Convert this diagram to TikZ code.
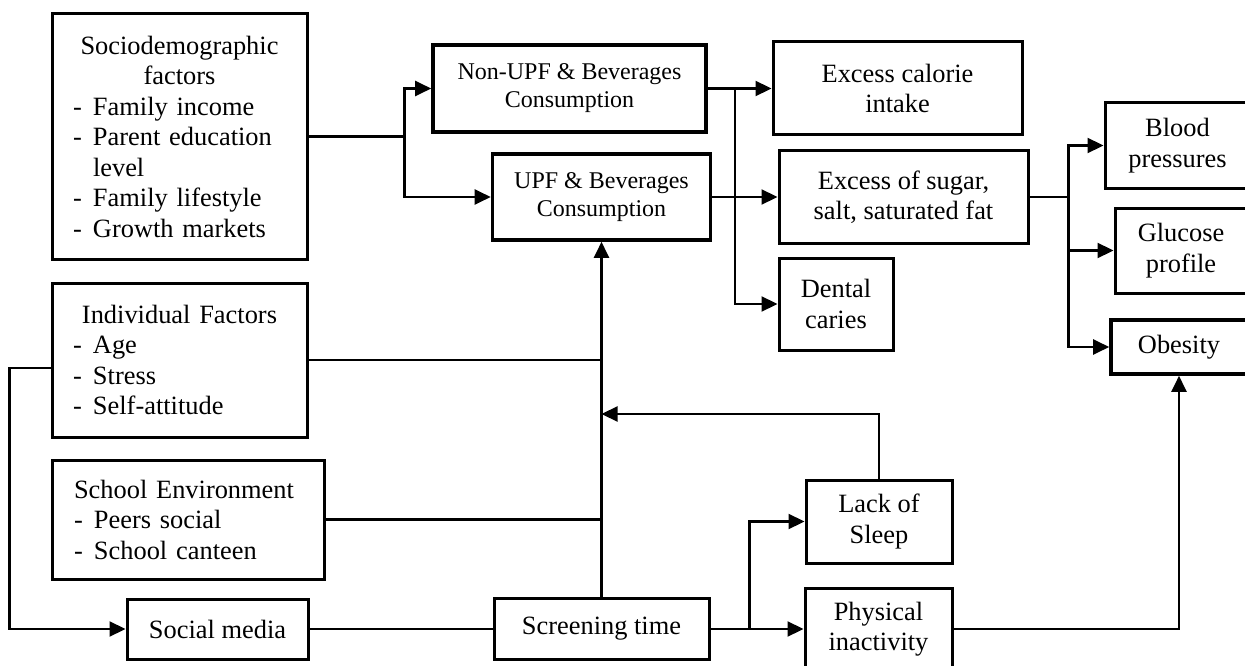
\documentclass[tikz,border=0pt]{standalone}
\usepackage{fontspec}
\setmainfont{Liberation Serif}
\usetikzlibrary{arrows.meta}
\newcommand\bodyfont{\fontsize{26.4}{30.5}\selectfont}
\newcommand\upffont{\fontsize{24}{28}\selectfont}
\newcommand\itm[1]{\makebox[20pt][l]{-}#1}
\begin{document}
\begin{tikzpicture}[x=1pt,y=-1pt,
  box/.style={draw, line width=3pt, inner sep=0pt, align=center, font=\bodyfont},
  heavy/.style={box, line width=3.6pt},
  listbox/.style={box, align=left, inner xsep=21pt, inner ysep=0pt},
  conn/.style={line width=2.2pt},
  arr/.style={conn, -{Triangle[length=16pt,width=15pt]}}]
\useasboundingbox (0,0) rectangle (1245,666);

% factor boxes on the left
\node[listbox, minimum width=255, minimum height=245, text width=213pt] (socio) at (179.5,136.5)
  {\makebox[213pt][c]{Sociodemographic}\\ \makebox[213pt][c]{factors}\\
   \itm{Family income}\\ \itm{Parent education}\\ \hspace*{20pt}level\\
   \itm{Family lifestyle}\\ \itm{Growth markets}};
\node[listbox, minimum width=255, minimum height=154, text width=213pt] (indiv) at (179.5,360)
  {\makebox[213pt][c]{Individual Factors}\\ \itm{Age}\\ \itm{Stress}\\ \itm{Self-attitude}};
\node[listbox, inner xsep=22pt, minimum width=272, minimum height=119, text width=228pt] (school) at (188,519.5)
  {School Environment\\ \itm{Peers social}\\ \itm{School canteen}};
\node[box, minimum width=181, minimum height=60] (social) at (217.5,629) {Social media};

% consumption
\node[heavy, font=\upffont, minimum width=273, minimum height=87] (nonupf) at (569.5,88.5)
  {Non-UPF \& Beverages\\ Consumption};
\node[heavy, font=\upffont, minimum width=218, minimum height=86] (upf) at (601.5,197)
  {UPF \& Beverages\\ Consumption};
\node[box, minimum width=215, minimum height=61] (screen) at (601.5,629) {Screening time};

% intermediate effects
\node[box, minimum width=249, minimum height=93] (calorie) at (897.5,88.5) {Excess calorie\\ intake};
\node[box, minimum width=249, minimum height=92] (sugar) at (903.5,197) {Excess of sugar,\\ salt, saturated fat};
\node[box, minimum width=114, minimum height=92] (dental) at (836,304) {Dental\\ caries};
\node[box, minimum width=146, minimum height=83] (lack) at (879,521.5) {Lack of\\ Sleep};
\node[box, minimum width=147, minimum height=82] (phys) at (878.5,629) {Physical\\ inactivity};

% health outcomes
\node[box, minimum width=145, minimum height=85] (blood) at (1177.5,145.5) {Blood\\ pressures};
\node[box, minimum width=132, minimum height=85] (glucose) at (1181,250.5) {Glucose\\ profile};
\node[heavy, minimum width=136, minimum height=54] (obes) at (1179,347) {Obesity};

% junction points
\coordinate (j1) at ([xshift=96pt]socio.east);
\coordinate (j2) at ([xshift=27pt]nonupf.east);
\coordinate (j3) at ([xshift=39pt]sugar.east);
\coordinate (j4) at ([xshift=39pt]screen.east);
\coordinate (fbk) at (601.5,414);

% connectors
\draw[conn] (socio.east) -- (j1);
\draw[arr] (j1) |- (nonupf.west);
\draw[arr] (j1) |- (upf.west);
\draw[arr] (nonupf.east) -- (calorie.west);
\draw[arr] (j2) |- (dental.west);
\draw[arr] (upf.east) -- (sugar.west);
\draw[conn] (sugar.east) -- (j3);
\draw[arr] (j3) |- (blood.west);
\draw[arr] (j3) |- (glucose.west);
\draw[arr] (j3) |- (obes.west);
\draw[conn] (indiv.east) -- (indiv.east -| upf.south);
\draw[conn] (school.east) -- (school.east -| upf.south);
\draw[arr] (screen.north) -- (upf.south);
\draw[arr] (lack.north) |- (fbk);
\draw[arr] ([yshift=-8pt]indiv.west) -- ++(-41,0) |- (social.west);
\draw[conn] (social.east) -- (screen.west);
\draw[arr] (screen.east) -- (phys.west);
\draw[arr] (j4) |- (lack.west);
\draw[arr] (phys.east) -| (obes.south);
\end{tikzpicture}
\end{document}
